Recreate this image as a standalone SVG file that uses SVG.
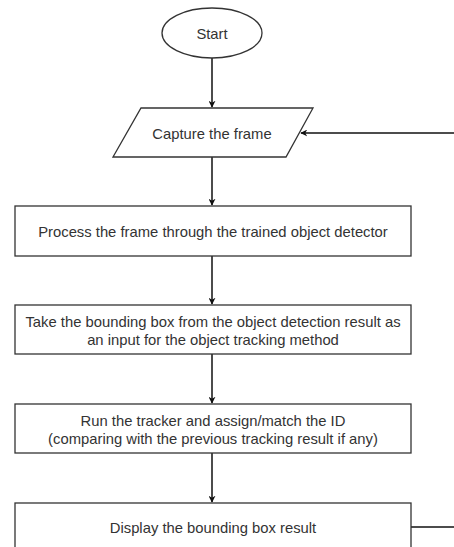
<svg xmlns="http://www.w3.org/2000/svg" width="454" height="547" viewBox="0 0 454 547">
<style>
.s{fill:#fff;stroke:#333;stroke-width:1.3}
.t{font-family:"Liberation Sans",Arial,sans-serif;font-size:14.8px;fill:#333;text-anchor:middle}
.c{fill:none;stroke:#111;stroke-width:1.5}
</style>
<defs>
<marker id="a" viewBox="0 0 10 10" refX="9" refY="5" markerWidth="7" markerHeight="7" markerUnits="userSpaceOnUse" orient="auto">
<path d="M0,0 L10,5 L0,10 L3,5 Z" fill="#111"/>
</marker>
</defs>
<rect width="454" height="547" fill="#fff"/>
<g id="connectors">
<path class="c" d="M212,58 V107" marker-end="url(#a)"/>
<path class="c" d="M212,157 V205" marker-end="url(#a)"/>
<path class="c" d="M212,256 V304" marker-end="url(#a)"/>
<path class="c" d="M212,354 V403" marker-end="url(#a)"/>
<path class="c" d="M212,453 V502" marker-end="url(#a)"/>
<path class="c" d="M454,133 H301" marker-end="url(#a)"/>
<path class="c" d="M411,527 H454"/>
</g>
<g id="start">
<ellipse class="s" cx="212" cy="33" rx="50" ry="25"/>
<text class="t" x="212" y="38.5">Start</text>
</g>
<g id="capture">
<polygon class="s" points="141,108 313,108 286,157 113,157"/>
<text class="t" x="212" y="138.5">Capture the frame</text>
</g>
<g id="process">
<rect class="s" x="15" y="206" width="396" height="50"/>
<text class="t" x="213" y="237">Process the frame through the trained object detector</text>
</g>
<g id="take">
<rect class="s" x="15" y="305" width="396" height="49"/>
<text class="t" x="213" y="327">Take the bounding box from the object detection result as</text>
<text class="t" x="213" y="344.5">an input for the object tracking method</text>
</g>
<g id="run">
<rect class="s" x="15" y="404" width="396" height="49"/>
<text class="t" x="213" y="426">Run the tracker and assign/match the ID</text>
<text class="t" x="213" y="443.5">(comparing with the previous tracking result if any)</text>
</g>
<g id="display">
<rect class="s" x="15" y="503" width="396" height="50"/>
<text class="t" x="213" y="533">Display the bounding box result</text>
</g>
</svg>
